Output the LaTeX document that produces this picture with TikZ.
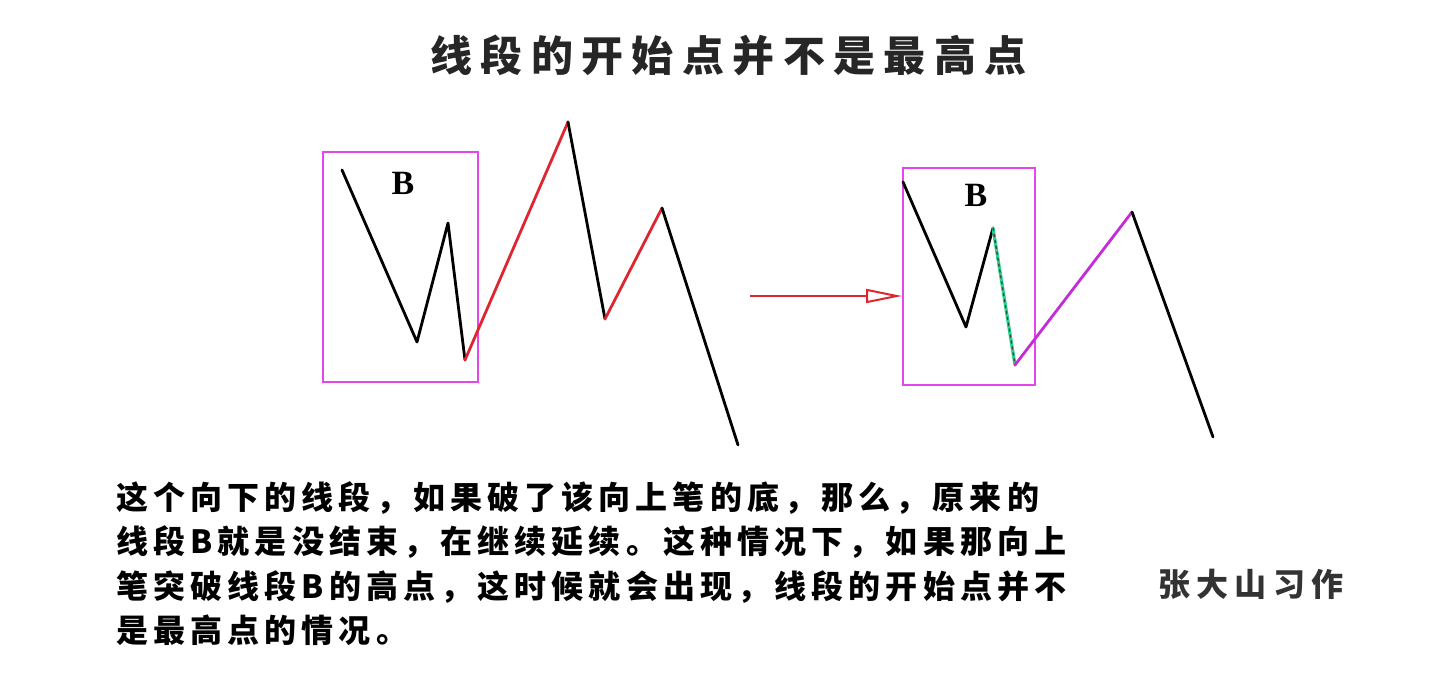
\documentclass[tikz,border=0pt]{standalone}
\usepackage{fontspec}
\setmainfont{Liberation Serif}
\newfontfamily\cjk{Noto Sans CJK SC}
\usetikzlibrary{calc,arrows.meta}
\definecolor{boxpink}{RGB}{228,70,236}
\definecolor{upred}{RGB}{222,38,48}
\definecolor{uppurple}{RGB}{196,44,214}
\definecolor{dashgreen}{RGB}{40,210,140}

\begin{document}
\begin{tikzpicture}[x=1pt,y=-1pt,
	wave/.style={line width=2.8pt,line join=round,line cap=round},
	segbox/.style={draw=boxpink,line width=2.8pt},
	para/.style={inner sep=0pt,anchor=base west,font=\cjk\bfseries\addfontfeature{LetterSpace=16}\fontsize{32}{32}\selectfont}]
	\useasboundingbox (0,0) rectangle (1435,689);
	% title
	\node[inner sep=0pt,anchor=base west,text=black!85,font=\cjk\bfseries\addfontfeature{LetterSpace=20}\fontsize{42}{42}\selectfont] (title) at (430,71) {线段的开始点并不是最高点};
	% left picture
	\coordinate (p1) at (342,170);
	\coordinate (p2) at (417,342);
	\coordinate (p3) at (448,223);
	\coordinate (p4) at (465,360);
	\coordinate (p5) at (568,122);
	\coordinate (p6) at (605,319);
	\coordinate (p7) at (662,208);
	\coordinate (p8) at (738,445);
	\draw[segbox] (323,152) rectangle (478,382);
	\node[font=\bfseries\fontsize{34}{34}\selectfont] (bl) at (403,183) {B};
	\draw[wave] (p1) -- (p2) -- (p3) -- (p4);
	\draw[wave,upred] (p4) -- (p5);
	\draw[wave] (p5) -- (p6);
	\draw[wave,upred] (p6) -- (p7);
	\draw[wave] (p7) -- (p8);
	% arrow
	\coordinate (arrS) at (750,296);
	\coordinate (arrE) at (902,296);
	\draw[upred,line width=2.2pt,-{Triangle[open,length=36pt,width=14pt,line width=2pt]}] (arrS) -- (arrE);
	% right picture
	\coordinate (q1) at (903,182);
	\coordinate (q2) at (966,327);
	\coordinate (q3) at (993,228);
	\coordinate (q4) at (1015,365);
	\coordinate (q5) at (1132,212);
	\coordinate (q6) at (1213,437);
	\draw[segbox] (903,168) rectangle (1035,385);
	\node[font=\bfseries\fontsize{34}{34}\selectfont] (br) at (976,195) {B};
	\draw[wave] (q1) -- (q2) -- (q3);
	\draw[wave,dashgreen,line width=3.2pt] (q3) -- (q4);
	\draw[black!75,line width=1.3pt,dash pattern=on 3pt off 3pt] (q3) -- (q4);
	\draw[wave,uppurple] (q4) -- (q5);
	\draw[wave] (q5) -- (q6);
	% text
	\foreach \ln [count=\i] in {这个向下的线段，如果破了该向上笔的底，那么，原来的,线段B就是没结束，在继续延续。这种情况下，如果那向上,笔突破线段B的高点，这时候就会出现，线段的开始点并不,是最高点的情况。}{
		\node[para] (line\i) at (116,{509+44.5*(\i-1)}) {\ln};
	}
	\node[inner sep=0pt,anchor=base west,text=black!80,font=\cjk\bfseries\addfontfeature{LetterSpace=20}\fontsize{32}{32}\selectfont] (sign) at (1158,596) {张大山习作};
\end{tikzpicture}
\end{document}
